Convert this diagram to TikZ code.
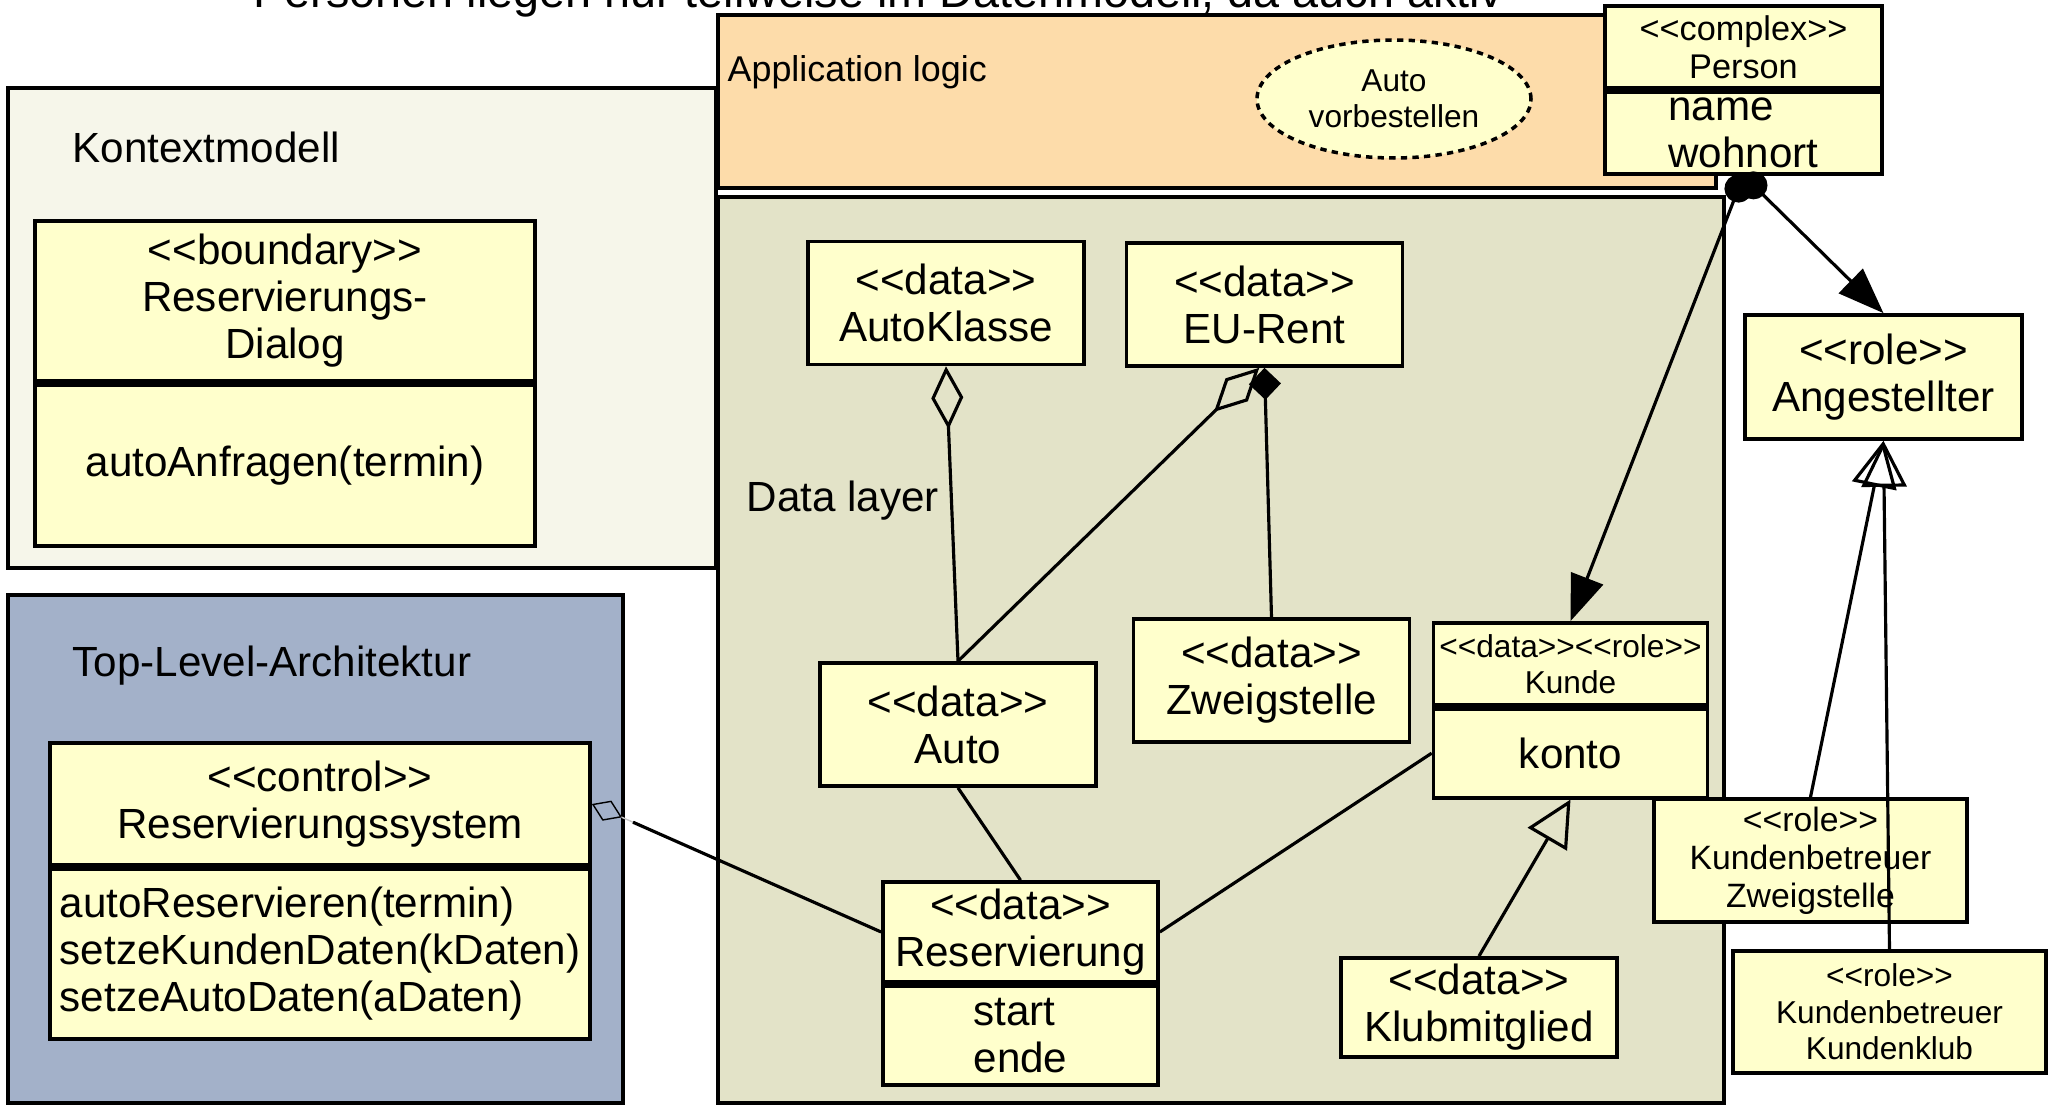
\documentclass[tikz,border=0pt]{standalone}
\usepackage{fontspec}
\setmainfont{Liberation Sans}[Ligatures=TeXOff]
\usepackage{tikz}
\usetikzlibrary{positioning,arrows.meta,shapes.geometric,calc}
\usepackage{xcolor}

\definecolor{boxyellow}{HTML}{FFFFCC}
\definecolor{ctxcream}{HTML}{F6F6EA}
\definecolor{toplevelblue}{HTML}{A3B1C9}
\definecolor{appliorange}{HTML}{FDDCAA}
\definecolor{dataolive}{HTML}{E3E3C8}

\begin{document}
\begin{tikzpicture}[
                x=1cm, y=-1cm,
                zone/.style={draw, line width=1pt},
                zonetitle/.style={anchor=base west, inner sep=0pt, font=\fontsize{12}{13.4}\selectfont},
                box/.style={draw, fill=boxyellow, line width=1.05pt, inner sep=0pt, align=center,
                    font=\fontsize{12}{13.4}\selectfont, minimum width=2.76cm, minimum height=1.23cm},
                small/.style={font=\fontsize{9}{10.2}\selectfont},
                usecase/.style={draw, ellipse, fill=boxyellow, line width=1pt, dash pattern=on 1.8pt off 1.5pt,
                    inner sep=0pt, align=center, small, minimum width=2.74cm, minimum height=1.18cm},
                link/.style={line width=0.9pt},
                aggr/.style={link, {Diamond[open, length=0.63cm, width=0.32cm]}-},
                comp/.style={link, {Diamond[length=0.32cm, width=0.32cm]}-},
                gen/.style={link, -{Triangle[open, length=0.46cm, width=0.45cm]}},
                nav/.style={link, {Circle[length=0.28cm]}-{Triangle[length=0.46cm, width=0.34cm]}}
            ]
                \useasboundingbox (0,0) rectangle (20.48,11.06);

                % Zones
                \draw[zone, fill=ctxcream] (0.08,0.88) rectangle (7.16,5.68);
                \draw[zone, fill=toplevelblue] (0.08,5.95) rectangle (6.23,11.03);
                \draw[zone, fill=appliorange] (7.18,0.15) rectangle (17.16,1.88);
                \draw[zone, fill=dataolive] (7.18,1.97) rectangle (17.24,11.03);

                \node[anchor=base west, inner sep=0pt, font=\fontsize{13.3}{15}\selectfont] (note) at (2.53,0.08)
                    {Personen liegen nur teilweise im Datenmodell, da auch aktiv};
                \node[zonetitle] (ctxtitle) at (0.72,1.63) {Kontextmodell};
                \node[zonetitle] (tltitle) at (0.72,6.77) {Top-Level-Architektur};
                \node[zonetitle, font=\fontsize{10.2}{12}\selectfont] (apptitle) at (7.27,0.82) {Application logic};
                \node[zonetitle] (datatitle) at (7.46,5.12) {Data layer};

                % Kontextmodell
                \node[box, minimum width=5cm, minimum height=1.6cm] (dialogH) at (2.85,3.01) {<<boundary>>\\Reservierungs-\\Dialog};
                \node[box, minimum width=5cm, minimum height=1.61cm, below=0pt of dialogH] (dialog) {autoAnfragen(termin)};

                % Top-Level-Architektur
                \node[box, minimum width=5.4cm, minimum height=1.22cm] (rsysH) at (3.2,8.04) {<<control>>\\Reservierungssystem};
                \node[box, minimum width=5.4cm, minimum height=1.7cm, align=left, below=0pt of rsysH] (rsys)
                    {autoReservieren(termin)\\setzeKundenDaten(kDaten)\\setzeAutoDaten(aDaten)};

                % Application logic
                \node[usecase] (vorbestellen) at (13.94,0.99) {Auto\\vorbestellen};
                \node[box, minimum width=2.77cm, minimum height=0.82cm, font=\fontsize{9.75}{10.8}\selectfont] (personH) at (17.435,0.47) {<<complex>>\\Person};
                \node[box, minimum width=2.77cm, minimum height=0.82cm, align=left, below=0pt of personH] (person) {name\\wohnort};

                % Data layer
                \node[box] (autoklasse) at (9.46,3.03) {<<data>>\\AutoKlasse};
                \node[box] (eurent) at (12.645,3.045) {<<data>>\\EU-Rent};
                \node[box] (auto) at (9.58,7.245) {<<data>>\\Auto};
                \node[box] (zweigstelle) at (12.715,6.805) {<<data>>\\Zweigstelle};
                \node[box, small, minimum width=2.74cm, minimum height=0.82cm] (kundeH) at (15.705,6.64) {<<data>><<role>>\\Kunde};
                \node[box, minimum width=2.74cm, minimum height=0.89cm, below=0pt of kundeH] (kunde) {konto};
                \node[box, minimum width=2.75cm, minimum height=1cm] (reservH) at (10.205,9.32) {<<data>>\\Reservierung};
                \node[box, minimum width=2.75cm, minimum height=0.99cm, align=left, below=0pt of reservH] (reserv) {start\\ende};
                \node[box, minimum height=0.99cm] (klub) at (14.79,10.075) {<<data>>\\Klubmitglied};

                % Roles
                \node[box, minimum width=2.77cm, minimum height=1.24cm] (angest) at (18.835,3.77) {<<role>>\\Angestellter};
                \node[box, font=\fontsize{9.6}{10.8}\selectfont, minimum width=3.13cm, minimum height=1.23cm] (kbzweig) at (18.105,8.605)
                    {<<role>>\\Kundenbetreuer\\Zweigstelle};
                \node[box, font=\fontsize{9}{10.4}\selectfont, minimum width=3.13cm, minimum height=1.22cm] (kbklub) at (18.895,10.12)
                    {<<role>>\\Kundenbetreuer\\Kundenklub};

                % Connectors
                \draw[aggr] (autoklasse.south) -- (auto.north);
                \draw[aggr] ([xshift=-1.5pt]eurent.south) -- (auto.north);
                \draw[comp] (eurent.south) -- (zweigstelle.north);
                \draw[link] (auto.south) -- (reservH.north);
                \draw[link] (reservH.east) -- (kunde.west);
                \draw[gen] (klub.north) -- (kunde.south);

                \coordinate (rsysgap) at ($(rsysH.east)!0.45cm!(reservH.west)$);
                \draw[line width=0.4pt, gray!40, {Diamond[open, length=0.33cm, width=0.22cm, color=black]}-] (rsysH.east) -- (rsysgap);
                \draw[link] (rsysgap) -- (reservH.west);

                \draw[nav] (person.south) -- (kundeH.north);
                \draw[nav] (person.south) -- (angest.north);
                \draw[gen] (kbzweig.north) -- (angest.south);
                \draw[gen] (kbklub.north) -- (angest.south);
            \end{tikzpicture}
\end{document}
